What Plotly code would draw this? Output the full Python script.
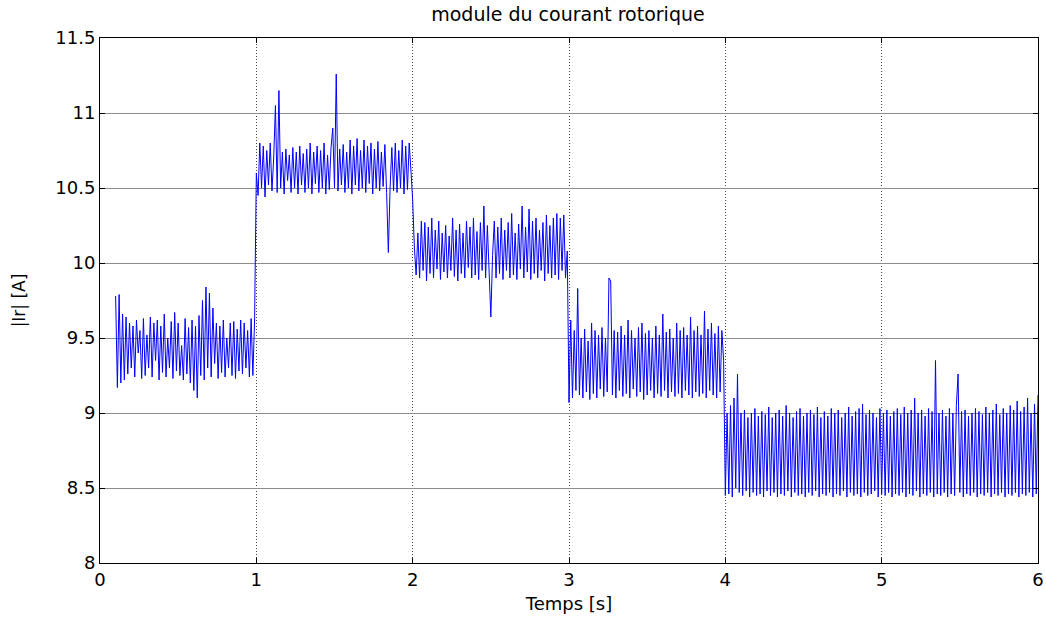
import numpy as np
import plotly.graph_objects as go

# Sampling: 90 samples per second starting at t = 0.1 s
t_start = 0.1
fs = 90

seg_0_1 = [9.78, 9.17, 9.79, 9.2, 9.66, 9.22, 9.64, 9.26, 9.6, 9.3,
           9.58, 9.24, 9.62, 9.4, 9.55, 9.23, 9.63, 9.25, 9.52, 9.3,
           9.64, 9.24, 9.6, 9.35, 9.62, 9.22, 9.58, 9.27, 9.66, 9.24,
           9.5, 9.3, 9.61, 9.23, 9.67, 9.28, 9.6, 9.25, 9.45, 9.22,
           9.63, 9.26, 9.57, 9.2, 9.62, 9.15, 9.58, 9.1, 9.65, 9.25,
           9.75, 9.22, 9.84, 9.3, 9.8, 9.24, 9.7, 9.33, 9.6, 9.23,
           9.58, 9.27, 9.62, 9.24, 9.5, 9.3, 9.6, 9.25, 9.61, 9.23,
           9.56, 9.28, 9.62, 9.26, 9.6, 9.3, 9.55, 9.24, 9.63, 9.25,
           9.62]

seg_1_2 = [10.6, 10.45, 10.8, 10.5, 10.78, 10.44, 10.75, 10.52, 10.8, 10.48,
           10.7, 11.05, 10.47, 11.15, 10.5, 10.74, 10.46, 10.76, 10.55, 10.72,
           10.47, 10.77, 10.5, 10.74, 10.46, 10.78, 10.52, 10.73, 10.47, 10.76,
           10.5, 10.8, 10.46, 10.74, 10.53, 10.78, 10.47, 10.75, 10.5, 10.8,
           10.46, 10.72, 10.49, 10.77, 10.9, 10.5, 11.26, 10.48, 10.76, 10.52,
           10.79, 10.47, 10.74, 10.5, 10.82, 10.46, 10.78, 10.52, 10.83, 10.48,
           10.75, 10.5, 10.82, 10.47, 10.78, 10.53, 10.8, 10.46, 10.76, 10.5,
           10.81, 10.48, 10.74, 10.51, 10.79, 10.47, 10.07, 10.5, 10.77, 10.48,
           10.8, 10.47, 10.75, 10.5, 10.82, 10.46, 10.78, 10.49, 10.8, 10.62]

seg_2_3 = [10.42, 10.1, 9.92, 10.2, 9.9, 10.28, 9.95, 10.27, 9.88, 10.24,
           9.93, 10.3, 9.9, 10.22, 9.96, 10.28, 9.89, 10.2, 9.94, 10.25,
           9.9, 10.18, 9.95, 10.3, 9.91, 10.22, 9.88, 10.26, 9.93, 10.2,
           9.9, 10.28, 9.97, 10.24, 9.9, 10.3, 9.92, 10.21, 9.89, 10.27,
           9.95, 10.38, 9.9, 10.25, 9.98, 9.64, 10.05, 10.28, 9.9, 10.24,
           9.93, 10.3, 9.89, 10.22, 9.95, 10.27, 9.9, 10.33, 9.92, 10.2,
           9.89, 10.26, 9.96, 10.38, 9.9, 10.24, 9.94, 10.36, 9.89, 10.28,
           9.93, 10.3, 9.9, 10.22, 9.95, 10.27, 9.88, 10.32, 9.93, 10.25,
           9.9, 10.3, 9.92, 10.33, 9.89, 10.3, 9.95, 10.32, 9.9, 10.08]

seg_3_4 = [9.07, 9.62, 9.1, 9.55, 9.15, 9.83, 9.12, 9.5, 9.1, 9.56,
           9.14, 9.48, 9.09, 9.6, 9.13, 9.55, 9.1, 9.52, 9.16, 9.57,
           9.11, 9.5, 9.14, 9.9, 9.88, 9.12, 9.55, 9.1, 9.54, 9.15,
           9.58, 9.11, 9.52, 9.13, 9.62, 9.1, 9.55, 9.16, 9.5, 9.11,
           9.57, 9.14, 9.6, 9.09, 9.53, 9.12, 9.55, 9.15, 9.5, 9.1,
           9.58, 9.13, 9.52, 9.11, 9.66, 9.15, 9.54, 9.1, 9.56, 9.14,
           9.5, 9.11, 9.6, 9.13, 9.55, 9.1, 9.57, 9.15, 9.52, 9.12,
           9.64, 9.1, 9.55, 9.14, 9.58, 9.11, 9.52, 9.13, 9.68, 9.1,
           9.56, 9.15, 9.6, 9.12, 9.53, 9.1, 9.58, 9.14, 9.55, 9.35]

seg_4_6 = [8.45, 9.0, 8.46, 9.05, 8.44, 9.1, 8.5, 9.26, 8.47, 9.0,
           8.45, 9.02, 8.48, 8.97, 8.44, 9.0, 8.47, 9.03, 8.45, 8.98,
           8.46, 9.01, 8.44, 8.99, 8.48, 9.04, 8.45, 8.97, 8.47, 9.0,
           8.44, 9.02, 8.46, 8.98, 8.45, 9.05, 8.48, 9.0, 8.44, 8.97,
           8.47, 9.01, 8.45, 9.03, 8.46, 8.98, 8.44, 9.0, 8.47, 9.02,
           8.45, 8.99, 8.48, 9.04, 8.44, 8.97, 8.46, 9.01, 8.45, 8.98,
           8.47, 9.03, 8.44, 9.0, 8.46, 9.02, 8.45, 8.97, 8.48, 9.0,
           8.44, 9.04, 8.47, 8.98, 8.45, 9.01, 8.46, 9.03, 8.44, 9.06,
           8.47, 8.99, 8.45, 9.02, 8.46, 9.0, 8.48, 8.97, 8.44, 9.03,
           8.46, 9.0, 8.45, 9.02, 8.47, 8.98, 8.44, 9.01, 8.46, 9.03,
           8.45, 8.99, 8.47, 9.04, 8.44, 9.0, 8.46, 9.02, 8.45, 9.1,
           8.48, 9.0, 8.44, 9.02, 8.46, 8.98, 8.45, 9.03, 8.47, 9.01,
           8.44, 9.35, 8.46, 9.0, 8.45, 9.02, 8.47, 8.98, 8.44, 9.03,
           8.46, 9.0, 8.45, 9.05, 9.26, 8.47, 9.01, 8.44, 9.02, 8.46,
           8.98, 8.45, 9.0, 8.47, 9.03, 8.44, 9.01, 8.46, 8.99, 8.45,
           9.04, 8.47, 9.0, 8.44, 9.02, 8.46, 9.06, 8.45, 8.99, 8.47,
           9.03, 8.44, 9.0, 8.46, 9.05, 8.45, 9.02, 8.47, 9.08, 8.44,
           9.01, 8.46, 9.04, 8.45, 9.1, 8.47, 9.0, 8.44, 9.06, 8.46,
           9.12]

x_ticks = [0, 1, 2, 3, 4, 5, 6]
y_ticks = [8, 8.5, 9, 9.5, 10, 10.5, 11, 11.5]

ir = seg_0_1 + seg_1_2 + seg_2_3 + seg_3_4 + seg_4_6
t = t_start + np.arange(len(ir)) / fs

fig = go.Figure()
fig.add_trace(go.Scatter(x=t, y=ir, mode="lines",
                         line=dict(color="#0000ff", width=1),
                         showlegend=False, hoverinfo="skip"))

font_family = "DejaVu Sans, Liberation Sans, Arial, sans-serif"
fig.update_layout(
    width=1046, height=623,
    margin=dict(l=100, r=8, t=38, b=60),
    paper_bgcolor="white", plot_bgcolor="white",
    font=dict(family=font_family, size=17, color="black"),
    title=dict(text="module du courant rotorique", x=0.543, xanchor="center",
               y=0.977, yanchor="middle",
               font=dict(family=font_family, size=19, color="black")),
)
fig.update_xaxes(
    range=[0, 6], tickvals=x_ticks, ticktext=[str(v) for v in x_ticks],
    showline=True, linecolor="black", linewidth=1, mirror="ticks",
    ticks="inside", ticklen=5, tickcolor="black",
    showgrid=True, gridcolor="#444444", griddash="1px,2px", gridwidth=1,
    zeroline=False, automargin=False,
    title=dict(text="Temps [s]", standoff=8, font=dict(size=18)),
    tickfont=dict(size=18),
)
fig.update_yaxes(
    range=[8, 11.5], tickvals=y_ticks, ticktext=[f"{v:g}" for v in y_ticks],
    showline=True, linecolor="black", linewidth=1, mirror="ticks",
    ticks="inside", ticklen=5, tickcolor="black",
    showgrid=True, gridcolor="#8c8c8c", gridwidth=1,
    zeroline=False,
    title=dict(text="|Ir| [A]", standoff=25, font=dict(size=17)),
    tickfont=dict(size=18),
)

fig.write_html("out.html")
